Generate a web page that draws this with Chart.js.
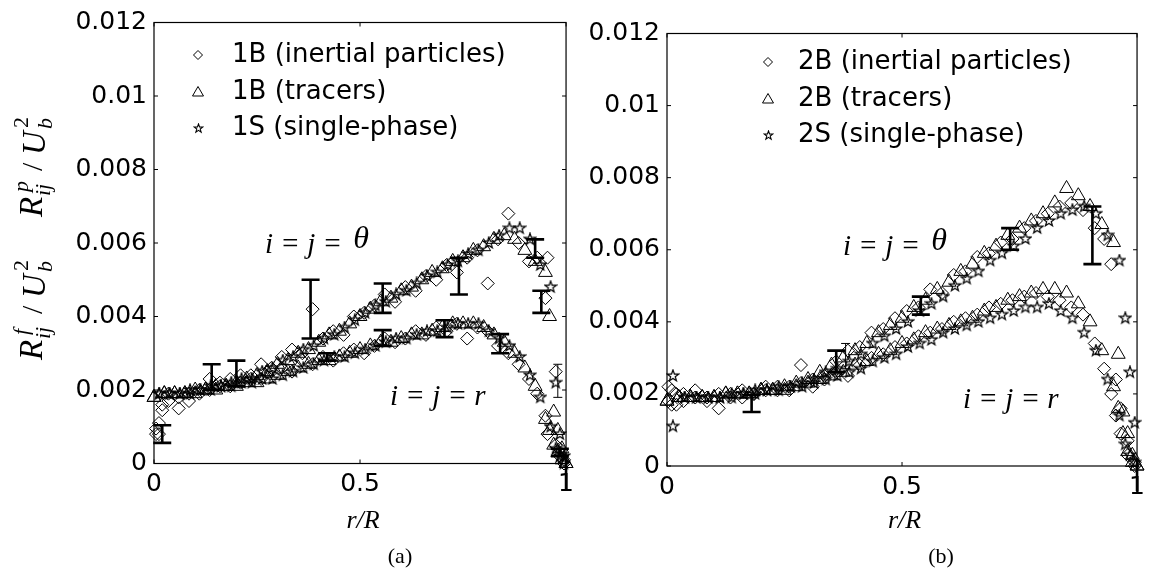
<!DOCTYPE html>
<html>
<head>
<meta charset="utf-8">
<script src="https://cdn.jsdelivr.net/npm/chart.js@4.4.1/dist/chart.umd.min.js"></script>
<style>
html, body { margin: 0; padding: 0; background: #fff; }
#wrap { position: relative; width: 1151px; height: 570px; }
#wrapA { position: absolute; left: 0; top: 0; width: 580px; height: 570px; }
#wrapB { position: absolute; left: 580px; top: 0; width: 571px; height: 570px; }
</style>
</head>
<body>
<div id="wrap">
  <div id="wrapA"><canvas id="chartA"></canvas></div>
  <div id="wrapB"><canvas id="chartB"></canvas></div>
</div>
<script>
// ---- tick labels ----
const yTickLabels = ['0', '0.002', '0.004', '0.006', '0.008', '0.01', '0.012'];
const xTickLabels = ['0', '0.5', '1'];
const legendA = ['1B (inertial particles)', '1B (tracers)', '1S (single-phase)'];
const legendB = ['2B (inertial particles)', '2B (tracers)', '2S (single-phase)'];

// ---- panel (a) ----
const aDiamX = [0.005, 0.012, 0.02, 0.035, 0.06, 0.085, 0.11, 0.135, 0.16, 0.185, 0.21, 0.235, 0.26, 0.285, 0.31, 0.335, 0.36, 0.385, 0.41, 0.435, 0.46, 0.485, 0.51, 0.535, 0.56, 0.585, 0.61, 0.635, 0.66, 0.685, 0.71, 0.735, 0.76, 0.785, 0.81, 0.835, 0.86, 0.885, 0.91, 0.93, 0.95, 0.955, 0.975, 0.985, 0.995];
const aDiamTheta = [0.00095, 0.0008, 0.00145, 0.0019, 0.0015, 0.0017, 0.0019, 0.0023, 0.0021, 0.0023, 0.0024, 0.0023, 0.0027, 0.0026, 0.0029, 0.0031, 0.0030, 0.0042, 0.0034, 0.0036, 0.0035, 0.0040, 0.0041, 0.0043, 0.0046, 0.0044, 0.0048, 0.0047, 0.0051, 0.0050, 0.0054, 0.0052, 0.0056, 0.0058, 0.0049, 0.0061, 0.0068, 0.0060, 0.0055, 0.0056, 0.0045, 0.0056, 0.0025, 0.0004, 0.0001];
const aDiamR = [0.0008, 0.0011, 0.0016, 0.0017, 0.0018, 0.0019, 0.0020, 0.0020, 0.0022, 0.0021, 0.0022, 0.0024, 0.0023, 0.0025, 0.0026, 0.0025, 0.0028, 0.0027, 0.0029, 0.0028, 0.0030, 0.0031, 0.0030, 0.0032, 0.0034, 0.0033, 0.0034, 0.0036, 0.0035, 0.0037, 0.0036, 0.0038, 0.0034, 0.0037, 0.0036, 0.0032, 0.0030, 0.0027, 0.0023, 0.0019, 0.0013, 0.0008, 0.0005, 0.0002, 0.0000];

const aTriX = [0, 0.025, 0.05, 0.075, 0.1, 0.125, 0.15, 0.175, 0.2, 0.225, 0.25, 0.275, 0.3, 0.325, 0.35, 0.375, 0.4, 0.425, 0.45, 0.475, 0.5, 0.525, 0.55, 0.575, 0.6, 0.625, 0.65, 0.675, 0.7, 0.725, 0.75, 0.775, 0.8, 0.825, 0.85, 0.875, 0.9, 0.925, 0.95, 0.96, 0.97, 0.98, 0.99, 1.0];
const aTriTheta = [0.0018, 0.0019, 0.0019, 0.0019, 0.0020, 0.0020, 0.0021, 0.0021, 0.0022, 0.0023, 0.0024, 0.0025, 0.0027, 0.0028, 0.0030, 0.0031, 0.0033, 0.0035, 0.0036, 0.0038, 0.0040, 0.0042, 0.0044, 0.0045, 0.0047, 0.0048, 0.0050, 0.0052, 0.0053, 0.0055, 0.0056, 0.0058, 0.0059, 0.0061, 0.0062, 0.0061, 0.0058, 0.0055, 0.0052, 0.0040, 0.0014, 0.0009, 0.0004, 0.0000];
const aTriR = [0.0018, 0.0019, 0.0019, 0.0019, 0.0019, 0.0020, 0.0020, 0.0021, 0.0021, 0.0022, 0.0022, 0.0023, 0.0024, 0.0025, 0.0026, 0.0027, 0.0028, 0.0028, 0.0029, 0.0030, 0.0031, 0.0032, 0.0033, 0.0033, 0.0034, 0.0035, 0.0035, 0.0036, 0.0037, 0.0038, 0.0038, 0.0038, 0.0037, 0.0035, 0.0033, 0.0030, 0.0026, 0.0021, 0.0012, 0.0009, 0.0005, 0.0003, 0.0001, 0.0000];

const aStarX = [0.0125, 0.0375, 0.0625, 0.0875, 0.1125, 0.1375, 0.1625, 0.1875, 0.2125, 0.2375, 0.2625, 0.2875, 0.3125, 0.3375, 0.3625, 0.3875, 0.4125, 0.4375, 0.4625, 0.4875, 0.5125, 0.5375, 0.5625, 0.5875, 0.6125, 0.6375, 0.6625, 0.6875, 0.7125, 0.7375, 0.7625, 0.7875, 0.8125, 0.8375, 0.8625, 0.8875, 0.9125, 0.9375, 0.9625, 0.975, 0.985, 0.995];
const aStarTheta = [0.0019, 0.0019, 0.0019, 0.0020, 0.0020, 0.0021, 0.0021, 0.0022, 0.0023, 0.0023, 0.0025, 0.0026, 0.0028, 0.0029, 0.0031, 0.0032, 0.0034, 0.0035, 0.0037, 0.0039, 0.0041, 0.0043, 0.0044, 0.0046, 0.0047, 0.0049, 0.0051, 0.0052, 0.0054, 0.0055, 0.0057, 0.0058, 0.0060, 0.0062, 0.0064, 0.0064, 0.0061, 0.0054, 0.0048, 0.0022, 0.0008, 0.0002];
const aStarR = [0.0019, 0.0019, 0.0019, 0.0019, 0.0020, 0.0020, 0.0021, 0.0021, 0.0022, 0.0022, 0.0023, 0.0023, 0.0024, 0.0025, 0.0026, 0.0027, 0.0028, 0.0029, 0.0029, 0.0030, 0.0031, 0.0032, 0.0033, 0.0034, 0.0034, 0.0035, 0.0036, 0.0036, 0.0037, 0.0038, 0.0038, 0.0038, 0.0036, 0.0034, 0.0032, 0.0029, 0.0024, 0.0018, 0.0010, 0.0004, 0.0002, 0.0000];

// error bars: 0 = thick, 1 = thin, 2 = thick without caps
const errAX = [0.02, 0.14, 0.2, 0.38, 0.42, 0.555, 0.555, 0.705, 0.74, 0.84, 0.925, 0.94, 0.98, 0.985, 1.0];
const errALow = [0.00056, 0.0020, 0.0021, 0.0034, 0.0028, 0.0041, 0.0032, 0.00344, 0.0046, 0.0030, 0.0056, 0.0041, 0.0018, 0.0002, -0.0007];
const errAHigh = [0.00104, 0.0027, 0.0028, 0.0050, 0.0030, 0.0049, 0.00363, 0.0039, 0.0056, 0.00352, 0.0061, 0.0047, 0.0027, 0.0004, 0.0001];
const errAKind = [0, 0, 0, 0, 0, 0, 0, 0, 0, 0, 0, 0, 1, 0, 2];

// ---- panel (b) ----
const bDiamX = [0.003, 0.01, 0.02, 0.035, 0.06, 0.085, 0.11, 0.135, 0.16, 0.185, 0.21, 0.235, 0.26, 0.285, 0.31, 0.335, 0.36, 0.385, 0.41, 0.435, 0.46, 0.485, 0.51, 0.535, 0.56, 0.585, 0.61, 0.635, 0.66, 0.685, 0.71, 0.735, 0.76, 0.785, 0.81, 0.835, 0.86, 0.885, 0.91, 0.93, 0.945, 0.955, 0.965, 0.98, 0.995];
const bDiamTheta = [0.0022, 0.0017, 0.0020, 0.0018, 0.0021, 0.0018, 0.0020, 0.0019, 0.0021, 0.0020, 0.0022, 0.0021, 0.0022, 0.0028, 0.0024, 0.0025, 0.0029, 0.0032, 0.0033, 0.0037, 0.0038, 0.0041, 0.0043, 0.0044, 0.0049, 0.0048, 0.0053, 0.0054, 0.0058, 0.0059, 0.0062, 0.0063, 0.0066, 0.0068, 0.0070, 0.0072, 0.0073, 0.0071, 0.0066, 0.0063, 0.0056, 0.0024, 0.0016, 0.0007, 0.0001];
const bDiamR = [0.0018, 0.0021, 0.0017, 0.0020, 0.0019, 0.0019, 0.0016, 0.0020, 0.0019, 0.0020, 0.0021, 0.0022, 0.0021, 0.0023, 0.0022, 0.0024, 0.0026, 0.0025, 0.0028, 0.0030, 0.0031, 0.0033, 0.0034, 0.0036, 0.0037, 0.0038, 0.0040, 0.0041, 0.0042, 0.0044, 0.0045, 0.0046, 0.0047, 0.0048, 0.0047, 0.0046, 0.0044, 0.0042, 0.0034, 0.0027, 0.0020, 0.0014, 0.0009, 0.0003, 0.0000];

const bTriX = [0, 0.025, 0.05, 0.075, 0.1, 0.125, 0.15, 0.175, 0.2, 0.225, 0.25, 0.275, 0.3, 0.325, 0.35, 0.375, 0.4, 0.425, 0.45, 0.475, 0.5, 0.525, 0.55, 0.575, 0.6, 0.625, 0.65, 0.675, 0.7, 0.725, 0.75, 0.775, 0.8, 0.825, 0.85, 0.875, 0.9, 0.925, 0.95, 0.96, 0.97, 0.98, 0.99, 1.0];
const bTriTheta = [0.0018, 0.0019, 0.0019, 0.0019, 0.0019, 0.0020, 0.0020, 0.0020, 0.0021, 0.0021, 0.0022, 0.0023, 0.0024, 0.0026, 0.0028, 0.0030, 0.0032, 0.0034, 0.0037, 0.0039, 0.0041, 0.0044, 0.0046, 0.0049, 0.0051, 0.0054, 0.0056, 0.0059, 0.0061, 0.0064, 0.0066, 0.0068, 0.0070, 0.0073, 0.0077, 0.0075, 0.0072, 0.0067, 0.0062, 0.0031, 0.0015, 0.0009, 0.0003, 0.0000];
const bTriR = [0.0018, 0.0019, 0.0019, 0.0019, 0.0019, 0.0020, 0.0020, 0.0020, 0.0021, 0.0021, 0.0021, 0.0022, 0.0023, 0.0024, 0.0025, 0.0026, 0.0028, 0.0029, 0.0031, 0.0032, 0.0034, 0.0035, 0.0037, 0.0038, 0.0039, 0.0040, 0.0041, 0.0043, 0.0044, 0.0046, 0.0047, 0.0048, 0.0049, 0.0049, 0.0048, 0.0045, 0.0040, 0.0032, 0.0022, 0.0016, 0.0009, 0.0004, 0.0001, 0.0000];

const bStarX = [0.0125, 0.0375, 0.0625, 0.0875, 0.1125, 0.1375, 0.1625, 0.1875, 0.2125, 0.2375, 0.2625, 0.2875, 0.3125, 0.3375, 0.3625, 0.3875, 0.4125, 0.4375, 0.4625, 0.4875, 0.5125, 0.5375, 0.5625, 0.5875, 0.6125, 0.6375, 0.6625, 0.6875, 0.7125, 0.7375, 0.7625, 0.7875, 0.8125, 0.8375, 0.8625, 0.8875, 0.9125, 0.9375, 0.9625, 0.975, 0.985, 0.995];
const bStarTheta = [0.0025, 0.0019, 0.0019, 0.0019, 0.0019, 0.0020, 0.0020, 0.0021, 0.0021, 0.0022, 0.0022, 0.0023, 0.0024, 0.0026, 0.0027, 0.0029, 0.0031, 0.0034, 0.0036, 0.0038, 0.0040, 0.0043, 0.0045, 0.0047, 0.0050, 0.0052, 0.0054, 0.0057, 0.0059, 0.0061, 0.0063, 0.0066, 0.0068, 0.0070, 0.0071, 0.0072, 0.0070, 0.0064, 0.0057, 0.0041, 0.0026, 0.0012];
const bStarR = [0.0011, 0.0019, 0.0019, 0.0019, 0.0019, 0.0019, 0.0020, 0.0020, 0.0021, 0.0021, 0.0022, 0.0022, 0.0023, 0.0024, 0.0025, 0.0026, 0.0027, 0.0029, 0.0030, 0.0031, 0.0033, 0.0034, 0.0035, 0.0037, 0.0038, 0.0039, 0.0040, 0.0041, 0.0042, 0.0043, 0.0044, 0.0044, 0.0045, 0.0043, 0.0041, 0.0037, 0.0032, 0.0024, 0.0014, 0.0006, 0.0003, 0.0001];

const errBX = [0.18, 0.36, 0.38, 0.54, 0.73, 0.905, 1.0];
const errBLow = [0.0015, 0.0026, 0.0027, 0.0042, 0.0060, 0.0056, -0.0007];
const errBHigh = [0.00197, 0.0032, 0.0034, 0.0047, 0.0066, 0.0072, 0.0002];
const errBKind = [0, 0, 1, 0, 0, 0, 2];

const sansFont = '"DejaVu Sans", sans-serif';
const serifFont = '"Liberation Serif", "DejaVu Serif", serif';

// five-pointed star marker (MATLAB 'pentagram')
function makeStar(size, lw) {
    const c = document.createElement('canvas');
    c.width = c.height = Math.ceil(size) + 2;
    const g = c.getContext('2d');
    const cx = c.width / 2, cy = c.height / 2, R = size / 2, r = R * 0.4;
    g.beginPath();
    for (let k = 0; k < 10; k++) {
        const a = -Math.PI / 2 + k * Math.PI / 5;
        const rr = k % 2 ? r : R;
        g.lineTo(cx + rr * Math.cos(a), cy + rr * Math.sin(a));
    }
    g.closePath();
    g.strokeStyle = '#000';
    g.lineWidth = lw;
    g.stroke();
    return c;
}
const starImg = makeStar(12, 1.2);
const starLegend = makeStar(9, 1.1);

function pts(xs, ys) {
    return xs.map((x, i) => ({ x: x, y: ys[i] }));
}

function markerSet(style, radius, data) {
    return {
        data: data,
        showLine: false,
        pointStyle: style,
        pointRadius: radius,
        pointHoverRadius: radius,
        borderColor: '#000',
        pointBorderColor: '#000',
        pointBackgroundColor: 'rgba(0,0,0,0)',
        pointBorderWidth: 1,
        clip: false
    };
}

function line(ctx, x1, y1, x2, y2) {
    ctx.moveTo(x1, y1);
    ctx.lineTo(x2, y2);
}

// R^{sup}_{ij} / U_b^2, written bottom to top
function mathLabel(ctx, bx, by, sup) {
    ctx.save();
    ctx.translate(bx, by);
    ctx.rotate(-Math.PI / 2);
    ctx.fillStyle = '#000';
    ctx.textAlign = 'left';
    ctx.textBaseline = 'alphabetic';
    ctx.font = 'italic 33px ' + serifFont;
    ctx.fillText('R', 0, 0);
    ctx.font = 'italic 22px ' + serifFont;
    ctx.fillText(sup, 25, -14);
    ctx.fillText('ij', 21, 8);
    ctx.font = '30px ' + serifFont;
    ctx.fillText('/', 46, 0);
    ctx.font = 'italic 33px ' + serifFont;
    ctx.fillText('U', 62, 3);
    ctx.font = 'italic 22px ' + serifFont;
    ctx.fillText('b', 88, 10);
    ctx.font = '22px ' + serifFont;
    ctx.fillText('2', 89, -14);
    ctx.restore();
}

function eqLabel(ctx, x, y, last, raise) {
    ctx.font = 'italic 29px ' + serifFont;
    ctx.fillText('i = j = ', x, y);
    const w = ctx.measureText('i = j = ').width;
    ctx.font = 'italic ' + (raise ? 32 : 29) + 'px ' + serifFont;
    ctx.fillText(last, x + w + (raise ? 4 : 0), y - (raise ? 5 : 0));
}

const decoPlugin = {
    id: 'deco',
    afterDatasetsDraw(chart, args, o) {
        const ctx = chart.ctx;
        const { left, right, top, bottom } = chart.chartArea;
        const xs = chart.scales.x, ys = chart.scales.y;
        ctx.save();
        ctx.strokeStyle = '#000';
        ctx.fillStyle = '#000';

        // box with inward ticks
        ctx.lineWidth = 1.2;
        ctx.strokeRect(left, top, right - left, bottom - top);
        ctx.lineWidth = 1;
        ctx.beginPath();
        ys.ticks.forEach(t => {
            const y = ys.getPixelForValue(t.value);
            line(ctx, left, y, left + 4, y);
            line(ctx, right - 4, y, right, y);
        });
        xs.ticks.forEach(t => {
            const x = xs.getPixelForValue(t.value);
            line(ctx, x, bottom, x, bottom - 4);
            line(ctx, x, top, x, top + 4);
        });
        ctx.stroke();

        // error bars
        o.errX.forEach((xv, i) => {
            const px = xs.getPixelForValue(xv);
            const y1 = ys.getPixelForValue(o.errLow[i]);
            const y2 = ys.getPixelForValue(o.errHigh[i]);
            const kind = o.errKind[i];
            const cap = kind === 1 ? 4.5 : 9;
            ctx.lineWidth = kind === 1 ? 1 : 2.6;
            ctx.beginPath();
            line(ctx, px, y1, px, y2);
            if (kind !== 2) {
                line(ctx, px - cap, y1, px + cap, y1);
                line(ctx, px - cap, y2, px + cap, y2);
            }
            ctx.stroke();
        });

        // legend
        const L = o.legend;
        ctx.lineWidth = 1;
        L.rows.forEach((yy, i) => {
            const mx = L.x;
            ctx.beginPath();
            if (i === 0) {
                ctx.moveTo(mx - 4.5, yy); ctx.lineTo(mx, yy - 4.5);
                ctx.lineTo(mx + 4.5, yy); ctx.lineTo(mx, yy + 4.5);
                ctx.closePath();
                ctx.stroke();
            } else if (i === 1) {
                ctx.moveTo(mx, yy - 5.5); ctx.lineTo(mx + 5.5, yy + 4);
                ctx.lineTo(mx - 5.5, yy + 4);
                ctx.closePath();
                ctx.stroke();
            } else {
                ctx.drawImage(starLegend, Math.round(mx - starLegend.width / 2), Math.round(yy - starLegend.height / 2));
            }
            ctx.font = '26px ' + sansFont;
            ctx.textAlign = 'left';
            ctx.textBaseline = 'alphabetic';
            ctx.fillText(L.labels[i], L.textX, yy + 7);
        });

        // component annotations
        ctx.textAlign = 'left';
        ctx.textBaseline = 'alphabetic';
        eqLabel(ctx, o.theta[0], o.theta[1], '\u03B8', true);
        eqLabel(ctx, o.rr[0], o.rr[1], 'r', false);

        // x title and panel label
        ctx.textAlign = 'center';
        ctx.font = 'italic 26px ' + serifFont;
        ctx.fillText('r/R', o.xTitle[0], o.xTitle[1]);
        ctx.font = '22px ' + serifFont;
        ctx.fillText(o.panel[0], o.panel[1], o.panel[2]);

        if (o.yTitle) {
            mathLabel(ctx, 42, 360, 'f');
            mathLabel(ctx, 42, 217, 'p');
        }
        ctx.restore();
    }
};

function makeChart(id, sets, geom, deco) {
    return new Chart(document.getElementById(id), {
        type: 'scatter',
        data: { datasets: sets },
        plugins: [decoPlugin],
        options: {
            animation: false,
            responsive: true,
            maintainAspectRatio: false,
            events: [],
            layout: { padding: { left: 0, right: geom.right, top: geom.top, bottom: 0 } },
            plugins: {
                legend: { display: false },
                tooltip: { enabled: false },
                deco: deco
            },
            scales: {
                x: {
                    type: 'linear',
                    min: 0,
                    max: 1,
                    afterFit: function (s) { s.height = geom.xh; },
                    grid: { display: false, drawTicks: false, tickLength: 0 },
                    border: { display: false },
                    ticks: {
                        stepSize: 0.5,
                        padding: 6,
                        maxRotation: 0,
                        color: '#000',
                        font: { family: sansFont, size: 25 },
                        callback: function (v, i) { return xTickLabels[i]; }
                    }
                },
                y: {
                    type: 'linear',
                    min: 0,
                    max: 0.012,
                    afterFit: function (s) { s.width = geom.yw; },
                    grid: { display: false, drawTicks: false, tickLength: 0 },
                    border: { display: false },
                    ticks: {
                        stepSize: 0.002,
                        padding: 7,
                        color: '#000',
                        font: { family: sansFont, size: 25 },
                        callback: function (v, i) { return yTickLabels[i]; }
                    }
                }
            }
        }
    });
}

makeChart('chartA', [
    markerSet('rectRot', 6.5, pts(aDiamX, aDiamTheta)),
    markerSet('rectRot', 6.5, pts(aDiamX, aDiamR)),
    markerSet('triangle', 8, pts(aTriX, aTriTheta)),
    markerSet('triangle', 8, pts(aTriX, aTriR)),
    markerSet(starImg, 6, pts(aStarX, aStarTheta)),
    markerSet(starImg, 6, pts(aStarX, aStarR))
], { yw: 154, xh: 106.5, top: 22.5, right: 8 }, {
    errX: errAX, errLow: errALow, errHigh: errAHigh, errKind: errAKind,
    legend: { x: 198, textX: 232, rows: [55, 92, 128], labels: legendA },
    theta: [265, 253], rr: [390, 405],
    xTitle: [363, 528], panel: ['(a)', 400, 563],
    yTitle: true
});

makeChart('chartB', [
    markerSet('rectRot', 6.5, pts(bDiamX, bDiamTheta)),
    markerSet('rectRot', 6.5, pts(bDiamX, bDiamR)),
    markerSet('triangle', 8, pts(bTriX, bTriTheta)),
    markerSet('triangle', 8, pts(bTriX, bTriR)),
    markerSet(starImg, 6, pts(bStarX, bStarTheta)),
    markerSet(starImg, 6, pts(bStarX, bStarR))
], { yw: 87, xh: 104, top: 33.5, right: 9 }, {
    errX: errBX, errLow: errBLow, errHigh: errBHigh, errKind: errBKind,
    legend: { x: 188, textX: 218, rows: [62, 99, 135], labels: legendB },
    theta: [263, 255], rr: [383, 408],
    xTitle: [324.5, 528], panel: ['(b)', 361, 563],
    yTitle: false
});
</script>
</body>
</html>
